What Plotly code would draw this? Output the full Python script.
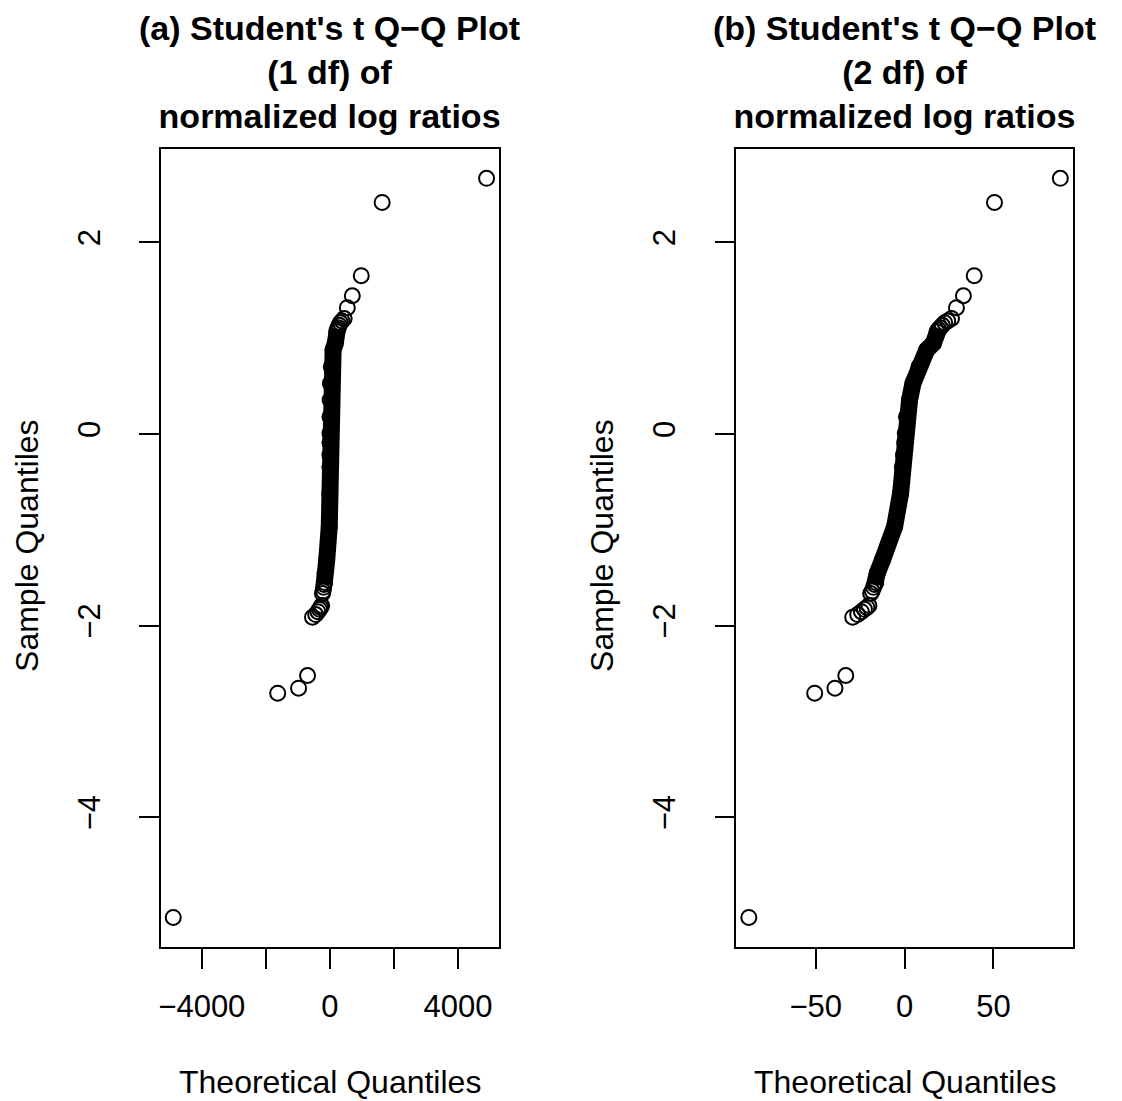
import numpy as np
import plotly.graph_objects as go

# ---------------- data ----------------
n_obs = 7685  # number of normalized log ratios

# largest values, by rank from the top (1 = largest)
upper_tail_y = [2.668, 2.417, 1.652, 1.443, 1.318, 1.205, 1.180, 1.160,
                1.135, 1.110, 1.090, 1.067]
# smallest values, by rank from the bottom (1 = smallest)
lower_tail_y = [-5.046, -2.705, -2.653, -2.521, -1.912, -1.885, -1.855,
                -1.830, -1.810, -1.790, -1.665, -1.640, -1.600, -1.570, -1.550]
# dense central part: cumulative proportion -> sample quantile
band_p = [0.00210, 0.0032, 0.0152, 0.077, 0.163, 0.30, 0.50, 0.633,
          0.80, 0.946, 0.979, 0.9925, 0.9968, 0.9981]
band_y = [-1.453, -1.315, -0.967, -0.619, -0.341, -0.22, -0.09, 0.007,
          0.18, 0.355, 0.529, 0.702, 0.876, 0.946]

titles = ["(a) Student's t Q\u2212Q Plot<br>(1 df) of<br>normalized log ratios",
          "(b) Student's t Q\u2212Q Plot<br>(2 df) of<br>normalized log ratios"]
xlab = "Theoretical Quantiles"
ylab = "Sample Quantiles"
xticks_a = [-4000, -2000, 0, 2000, 4000]
xticktext_a = ["\u22124000", "", "0", "", "4000"]
xticks_b = [-50, 0, 50]
xticktext_b = ["\u221250", "0", "50"]
yticks = [-4, -2, 0, 2]
yticktext = ["\u22124", "\u22122", "0", "2"]

# ---------------- Q-Q positions ----------------
lower_p = (np.arange(1, len(lower_tail_y) + 1) - 0.5) / n_obs
upper_p = (n_obs - np.arange(1, len(upper_tail_y) + 1) + 0.5) / n_obs
p_all = np.concatenate([lower_p, np.array(band_p), upper_p])
y_all = np.concatenate([np.array(lower_tail_y), np.array(band_y), np.array(upper_tail_y)])
# the densely over-plotted stretch (heavy overlap of circles)
dense = (y_all > -1.58) & (y_all < 1.10)


def qt1(p):
    p = np.asarray(p, float)
    return np.tan(np.pi * (p - 0.5))


def qt2(p):
    p = np.asarray(p, float)
    return (2 * p - 1) / np.sqrt(2 * p * (1 - p))


def pad(lo, hi):
    s = hi - lo
    return [lo - 0.04 * s, hi + 0.04 * s]


W, H = 1122, 1101
FONT = "Liberation Sans, Arial, sans-serif"
fig = go.Figure()

panels = [
    dict(q=qt1, xa="x", ya="y", dom=[159 / W, 498 / W]),
    dict(q=qt2, xa="x2", ya="y2", dom=[735.7 / W, 1072.7 / W]),
]
for pn in panels:
    fig.add_trace(go.Scatter(x=pn["q"](p_all[dense]), y=y_all[dense], mode="lines",
                             line=dict(color="black", width=17),
                             xaxis=pn["xa"], yaxis=pn["ya"], hoverinfo="skip",
                             showlegend=False))
    fig.add_trace(go.Scatter(x=pn["q"](p_all), y=y_all, mode="markers",
                             marker=dict(symbol="circle-open", size=15,
                                         color="black", line=dict(width=2, color="black")),
                             xaxis=pn["xa"], yaxis=pn["ya"], showlegend=False))

ydom = [154 / H, 952.2 / H]
yrange = pad(min(y_all), max(y_all))
axis_common = dict(showline=True, linecolor="black", linewidth=1.5, mirror=True,
                   ticks="outside", ticklen=20, tickwidth=1.5, tickcolor="black",
                   showgrid=False, zeroline=False,
                   tickfont=dict(family=FONT, size=31, color="black"))

xa_rng = pad(qt1(p_all).min(), qt1(p_all).max())
xb_rng = pad(qt2(p_all).min(), qt2(p_all).max())

fig.update_layout(
    width=W, height=H, margin=dict(l=0, r=0, t=0, b=0),
    paper_bgcolor="white", plot_bgcolor="white",
    xaxis=dict(domain=panels[0]["dom"], range=xa_rng, anchor="y",
               tickvals=xticks_a, ticktext=xticktext_a, ticklabelstandoff=11, **axis_common),
    yaxis=dict(domain=ydom, range=yrange, anchor="x",
               tickvals=yticks, ticktext=yticktext, tickangle=-90,
               ticklabelstandoff=27, **axis_common),
    xaxis2=dict(domain=panels[1]["dom"], range=xb_rng, anchor="y2",
                tickvals=xticks_b, ticktext=xticktext_b, ticklabelstandoff=11, **axis_common),
    yaxis2=dict(domain=ydom, range=yrange, anchor="x2",
                tickvals=yticks, ticktext=yticktext, tickangle=-90,
                ticklabelstandoff=27, **axis_common),
)

centers = [(159 + 498) / 2 / W, (735.7 + 1072.7) / 2 / W]
ylab_x = [25 / W, 601 / W]
for i in range(2):
    fig.add_annotation(text="<b>" + titles[i] + "</b>", x=centers[i], y=1 - 72 / H,
                       xref="paper", yref="paper", xanchor="center", yanchor="middle",
                       showarrow=False, font=dict(family=FONT, size=34, color="black"))
    fig.add_annotation(text=xlab, x=centers[i], y=1 - 1082 / H,
                       xref="paper", yref="paper", xanchor="center", yanchor="middle",
                       showarrow=False, font=dict(family=FONT, size=32, color="black"))
    fig.add_annotation(text=ylab, x=ylab_x[i], y=1 - 545 / H, textangle=-90,
                       xref="paper", yref="paper", xanchor="center", yanchor="middle",
                       showarrow=False, font=dict(family=FONT, size=32, color="black"))

fig.write_html("out.html", config={"displayModeBar": False},
               post_script="document.body.style.margin='0';document.body.style.overflow='hidden';")
